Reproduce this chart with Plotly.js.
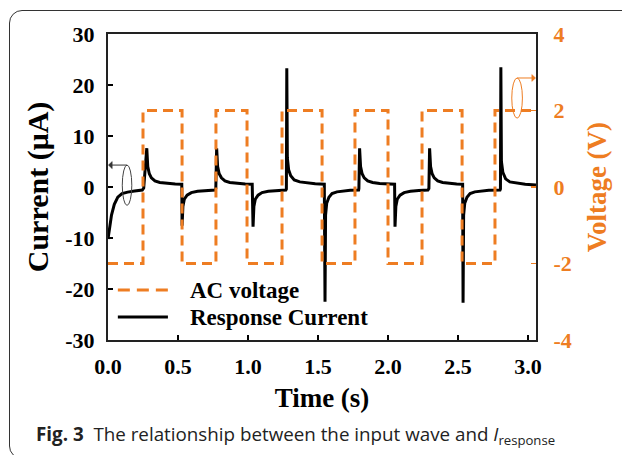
<!DOCTYPE html>
<html>
<head>
<meta charset="utf-8">
<script src="https://cdn.plot.ly/plotly-3.0.1.min.js"></script>
<style>
html,body{margin:0;padding:0;background:#fff;}
#wrap{position:relative;width:622px;height:455px;overflow:hidden;}
#chart{position:absolute;left:0;top:0;width:622px;height:455px;}
#frame{position:absolute;left:9px;top:10px;width:700px;height:449px;border:1.3px solid #333;border-radius:13px;pointer-events:none;box-sizing:border-box;}
</style>
</head>
<body>
<div id="wrap"><div id="chart"></div><div id="frame"></div></div>
<script>
// AC voltage square wave (time in s, voltage in V)
const voltTime = [0, 0.250, 0.529, 0.771, 0.993, 1.243, 1.529, 1.764, 2.000, 2.243, 2.529, 2.764, 3.057];
const voltValue = [-2, 2, -2, 2, -2, 2, -2, 2, -2, 2, -2, 2, 2];

// Response current (time in s, current in µA)
const curTime = [
  0.000, 0.010, 0.025, 0.045, 0.070, 0.100, 0.140, 0.190, 0.245,
  0.255, 0.268, 0.277, 0.284, 0.295, 0.310, 0.335, 0.370, 0.420, 0.480, 0.527,
  0.529, 0.535, 0.545, 0.565, 0.595, 0.640, 0.700, 0.765,
  0.770, 0.776, 0.783, 0.794, 0.810, 0.835, 0.870, 0.920, 0.980, 1.030,
  1.036, 1.042, 1.052, 1.072, 1.100, 1.145, 1.200, 1.270,
  1.274, 1.277, 1.281, 1.290, 1.305, 1.330, 1.370, 1.420, 1.480, 1.545,
  1.550, 1.554, 1.562, 1.578, 1.600, 1.635, 1.680, 1.730, 1.790,
  1.792, 1.797, 1.804, 1.815, 1.830, 1.855, 1.890, 1.940, 2.000, 2.047,
  2.050, 2.056, 2.066, 2.086, 2.115, 2.160, 2.220, 2.285,
  2.292, 2.297, 2.304, 2.315, 2.330, 2.355, 2.390, 2.440, 2.490, 2.533,
  2.536, 2.540, 2.548, 2.564, 2.586, 2.620, 2.665, 2.720, 2.800,
  2.803, 2.806, 2.810, 2.820, 2.840, 2.870, 2.920, 2.980, 3.057
];
const curValue = [
  -10.2, -8.0, -5.5, -3.4, -2.0, -1.3, -1.0, -0.8, -0.6,
  -0.2, 5.5, 7.6, 4.0, 2.6, 1.8, 1.2, 0.9, 0.7, 0.6, 0.55,
  -7.6, -3.8, -2.4, -1.6, -1.1, -0.85, -0.7, -0.6,
  -0.3, 7.6, 4.0, 2.6, 1.8, 1.2, 0.9, 0.7, 0.6, 0.55,
  -7.8, -3.8, -2.4, -1.6, -1.1, -0.85, -0.7, -0.6,
  -0.4, 23.3, 5.7, 3.4, 2.2, 1.4, 1.0, 0.8, 0.65, 0.55,
  -22.5, -5.5, -3.2, -2.0, -1.3, -0.95, -0.75, -0.65, -0.6,
  -0.3, 7.6, 4.0, 2.6, 1.8, 1.2, 0.9, 0.7, 0.6, 0.55,
  -7.8, -3.8, -2.4, -1.6, -1.1, -0.85, -0.7, -0.6,
  -0.3, 7.6, 4.0, 2.6, 1.8, 1.2, 0.9, 0.7, 0.6, 0.55,
  -22.7, -5.5, -3.2, -2.0, -1.3, -0.95, -0.75, -0.65, -0.6,
  -0.4, 23.5, 5.0, 2.9, 1.6, 1.0, 0.75, 0.55, 0.4
];

const xTicks = [0, 0.5, 1.0, 1.5, 2.0, 2.5, 3.0];
const xTickText = ["0.0", "0.5", "1.0", "1.5", "2.0", "2.5", "3.0"];
const yTicks = [-30, -20, -10, 0, 10, 20, 30];
const yTickText = ["-30", "-20", "-10", "0", "10", "20", "30"];
const y2Ticks = [-4, -2, 0, 2, 4];
const y2TickText = ["-4", "-2", "0", "2", "4"];
const legendNames = ["AC voltage", "Response Current"];

const ORANGE = "#EE7D22";
const SERIF = "Liberation Serif, Times New Roman, serif";

const traces = [
  {x: voltTime, y: voltValue, yaxis: "y2", mode: "lines", name: legendNames[0],
   line: {color: ORANGE, width: 3, dash: "10px,6px", shape: "hv"}, showlegend: false},
  {x: curTime, y: curValue, yaxis: "y", mode: "lines", name: legendNames[1],
   line: {color: "#000", width: 3}, showlegend: false}
];

const tickFont = {family: SERIF, size: 22, color: "#000", weight: "bold"};

const layout = {
  width: 622, height: 455,
  margin: {l: 108, r: 86, t: 34, b: 115},
  paper_bgcolor: "rgba(0,0,0,0)", plot_bgcolor: "rgba(0,0,0,0)",
  showlegend: false,
  xaxis: {range: [0, 3.057], tickvals: xTicks, ticktext: xTickText,
    ticks: "inside", ticklen: 5, tickwidth: 1.2, tickcolor: "#000",
    showline: true, linewidth: 2, linecolor: "#222", mirror: true,
    showgrid: false, zeroline: false, tickfont: tickFont, ticklabelstandoff: 6,
    title: {text: "Time (s)", font: {family: SERIF, size: 27, color: "#000", weight: "bold"}, standoff: 10}},
  yaxis: {range: [-30, 30], tickvals: yTicks, ticktext: yTickText,
    ticks: "inside", ticklen: 5, tickwidth: 1.2, tickcolor: "#000",
    showline: true, linewidth: 2, linecolor: "#222", mirror: true,
    showgrid: false, zeroline: false, tickfont: tickFont, ticklabelstandoff: 7,
    title: {text: "Current (μA)", font: {family: SERIF, size: 30, color: "#000", weight: "bold"}, standoff: 8}},
  yaxis2: {range: [-4, 4], tickvals: y2Ticks, ticktext: y2TickText, overlaying: "y", side: "right",
    ticks: "inside", ticklen: 5, tickwidth: 1.2, tickcolor: ORANGE,
    showline: true, linewidth: 2, linecolor: "#222",
    showgrid: false, zeroline: false,
    tickfont: {family: SERIF, size: 22, color: ORANGE, weight: "bold"}, ticklabelstandoff: 11,
    title: {text: "Voltage (V)", font: {family: SERIF, size: 27, color: ORANGE, weight: "bold"}, standoff: 16}},
  shapes: [
    // manual legend samples
    {type: "line", xref: "paper", yref: "paper", x0: 0.023, x1: 0.14, y0: 0.163, y1: 0.163,
     line: {color: ORANGE, width: 3, dash: "12px,7px"}},
    {type: "line", xref: "paper", yref: "paper", x0: 0.023, x1: 0.14, y0: 0.075, y1: 0.075,
     line: {color: "#000", width: 3}},
    // ellipses marking which axis belongs to which curve
    {type: "circle", xref: "x", yref: "y", x0: 0.102, x1: 0.170, y0: -3.6, y1: 4.3,
     line: {color: "#444", width: 1}},
    {type: "circle", xref: "x", yref: "y2", x0: 2.884, x1: 2.960, y0: 1.80, y1: 2.85,
     line: {color: ORANGE, width: 1}},
    // arrows from the ellipses to their axes
    {type: "line", xref: "x", yref: "y", x0: 0.136, x1: 0.02, y0: 4.3, y1: 4.3,
     line: {color: "#333", width: 1}},
    {type: "path", xref: "x", yref: "y", path: "M0.003,4.3 L0.03,5.0 L0.03,3.6 Z",
     fillcolor: "#333", line: {color: "#333", width: 0.5}},
    {type: "line", xref: "x", yref: "y2", x0: 2.922, x1: 3.035, y0: 2.85, y1: 2.85,
     line: {color: ORANGE, width: 1}},
    {type: "path", xref: "x", yref: "y2", path: "M3.054,2.85 L3.027,2.94 L3.027,2.76 Z",
     fillcolor: ORANGE, line: {color: ORANGE, width: 0.5}}
  ],
  annotations: [
    {xref: "paper", yref: "paper", x: 0.186, y: 0.163, xanchor: "left", yanchor: "middle",
     text: legendNames[0], showarrow: false, font: {family: SERIF, size: 23, color: "#000", weight: "bold"}},
    {xref: "paper", yref: "paper", x: 0.186, y: 0.075, xanchor: "left", yanchor: "middle",
     text: legendNames[1], showarrow: false, font: {family: SERIF, size: 23, color: "#000", weight: "bold"}},
    {xref: "paper", yref: "paper", x: -0.172, y: -0.31, xanchor: "left", yanchor: "middle",
     showarrow: false, align: "left",
     text: "<b>Fig. 3</b>  The relationship between the input wave and <i>I</i><sub>response</sub>",
     font: {family: "Open Sans, Noto Sans, sans-serif", size: 18.8, color: "#222"}}
  ]
};

Plotly.newPlot("chart", traces, layout, {staticPlot: true, displayModeBar: false});
</script>
</body>
</html>
